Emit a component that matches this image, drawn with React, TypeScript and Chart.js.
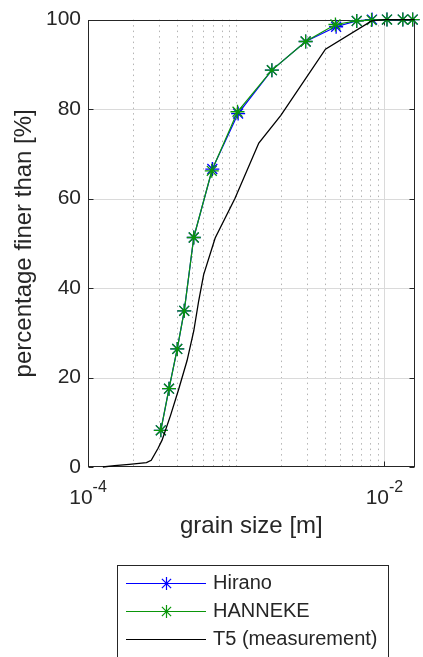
import React, { useEffect, useRef } from 'react';
import { Chart, registerables } from 'chart.js';

Chart.register(...registerables);

// ---- data ----
const hannekeSize = [3.10e-4, 3.52e-4, 4.0e-4, 4.46e-4, 5.17e-4, 6.84e-4, 1.02e-3, 1.74e-3, 2.94e-3, 4.67e-3, 6.5e-3, 8.19e-3, 1.04e-2, 1.33e-2, 1.55e-2];
const hannekePercent = [8.2, 17.5, 26.4, 34.9, 51.3, 66.2, 79.4, 88.7, 95.1, 98.9, 99.7, 99.9, 100, 100, 100];

const hiranoSize = [3.10e-4, 3.52e-4, 4.0e-4, 4.46e-4, 5.17e-4, 6.90e-4, 1.03e-3, 1.74e-3, 2.94e-3, 4.72e-3, 6.5e-3, 8.25e-3, 1.04e-2, 1.33e-2, 1.55e-2];
const hiranoPercent = [8.2, 17.5, 26.4, 34.9, 51.3, 66.6, 79.0, 88.7, 95.1, 98.4, 99.7, 100, 100, 100, 100];

const t5Size = [1.26e-4, 1.51e-4, 1.90e-4, 2.48e-4, 2.67e-4, 2.97e-4, 3.16e-4, 3.61e-4, 4.10e-4, 4.66e-4, 5.17e-4, 5.58e-4, 6.03e-4, 7.21e-4, 9.80e-4, 1.42e-3, 2.00e-3, 4.0e-3, 8.19e-3, 1.0e-2, 1.6e-2];
const t5Percent = [0, 0.3, 0.6, 1.0, 1.5, 4.2, 6.0, 11.6, 17.5, 23.8, 30.4, 37.1, 43.0, 51.2, 60.0, 72.4, 78.6, 93.4, 99.7, 100, 100];

const xLabelExponents = [-4, -2];
const yTickValues = [0, 20, 40, 60, 80, 100];
const legendLabels = ['Hirano', 'HANNEKE', 'T5 (measurement)'];

const X_MIN = 1e-4;
const X_MAX = 0.016;

const FONT = '"Liberation Sans", Arial, Helvetica, sans-serif';
const TEXT = '#262626';
const BLUE = '#0000ff';
const GREEN = 'rgb(10,150,10)';
const BLACK = '#000000';
const MARKER_R = 7;

const toPoints = (xs: number[], ys: number[]) => xs.map((v, i) => ({ x: v, y: ys[i] }));

function drawStar(ctx: CanvasRenderingContext2D, cx: number, cy: number, r: number, color: string) {
  ctx.save();
  ctx.strokeStyle = color;
  ctx.lineWidth = 1.2;
  ctx.setLineDash([]);
  ctx.beginPath();
  ctx.moveTo(cx - r, cy); ctx.lineTo(cx + r, cy);
  ctx.moveTo(cx, cy - r); ctx.lineTo(cx, cy + r);
  const d = Math.cos(Math.PI / 4) * r;
  ctx.moveTo(cx - d, cy - d); ctx.lineTo(cx + d, cy + d);
  ctx.moveTo(cx - d, cy + d); ctx.lineTo(cx + d, cy - d);
  ctx.stroke();
  ctx.restore();
}

const axesPlugin = {
  id: 'matlabAxes',
  beforeDatasetsDraw(chart: any) {
    const { ctx, chartArea: a, scales } = chart;
    const x = scales.x;
    const y = scales.y;
    ctx.save();
    ctx.lineWidth = 1;
    // vertical grid (log)
    for (let e = -4; e <= -2; e++) {
      for (let m = 1; m <= 9; m++) {
        const v = m * Math.pow(10, e);
        if (v <= X_MIN * 1.0001 || v >= X_MAX) continue;
        const px = Math.round(x.getPixelForValue(v)) + 0.5;
        const major = m === 1 && xLabelExponents.includes(e);
        if (major) {
          ctx.setLineDash([]);
          ctx.strokeStyle = '#dadada';
        } else {
          ctx.setLineDash([1.5, 4]);
          ctx.strokeStyle = '#b4b4b4';
        }
        ctx.beginPath();
        ctx.moveTo(px, a.top);
        ctx.lineTo(px, a.bottom);
        ctx.stroke();
      }
    }
    // horizontal grid
    ctx.setLineDash([]);
    ctx.strokeStyle = '#dadada';
    yTickValues.forEach((v) => {
      if (v === 0 || v === 100) return;
      const py = Math.round(y.getPixelForValue(v)) + 0.5;
      ctx.beginPath();
      ctx.moveTo(a.left, py);
      ctx.lineTo(a.right, py);
      ctx.stroke();
    });
    // box
    ctx.strokeStyle = TEXT;
    const l = Math.round(a.left) + 0.5;
    const r = Math.round(a.right) - 0.5;
    const t = Math.round(a.top) + 0.5;
    const b = Math.round(a.bottom) - 0.5;
    ctx.strokeRect(l, t, r - l, b - t);
    // tick marks
    const tl = 5;
    ctx.beginPath();
    yTickValues.forEach((v) => {
      const py = Math.round(y.getPixelForValue(v)) + 0.5;
      ctx.moveTo(l, py); ctx.lineTo(l + tl, py);
      ctx.moveTo(r, py); ctx.lineTo(r - tl, py);
    });
    xLabelExponents.forEach((e) => {
      const px = Math.round(x.getPixelForValue(Math.pow(10, e))) + 0.5;
      ctx.moveTo(px, b); ctx.lineTo(px, b - tl);
      ctx.moveTo(px, t); ctx.lineTo(px, t + tl);
    });
    ctx.stroke();
    ctx.restore();
  },
  afterDraw(chart: any) {
    const { ctx, scales } = chart;
    const x = scales.x;
    ctx.save();
    ctx.fillStyle = TEXT;
    ctx.textBaseline = 'alphabetic';
    ctx.textAlign = 'left';
    // x tick labels with superscript exponents
    xLabelExponents.forEach((e) => {
      const px = x.getPixelForValue(Math.pow(10, e));
      const base = '10';
      const exp = String(e);
      ctx.font = `21px ${FONT}`;
      const w1 = ctx.measureText(base).width;
      ctx.font = `16px ${FONT}`;
      const w2 = ctx.measureText(exp).width;
      const start = px - (w1 + w2) / 2;
      ctx.font = `21px ${FONT}`;
      ctx.fillText(base, start, 504);
      ctx.font = `16px ${FONT}`;
      ctx.fillText(exp, start + w1, 492);
    });

    // legend
    const bx = 117.5, by = 565.5, bw = 271, bh = 120;
    ctx.fillStyle = '#ffffff';
    ctx.fillRect(bx, by, bw, bh);
    ctx.strokeStyle = '#262626';
    ctx.lineWidth = 1;
    ctx.strokeRect(bx, by, bw, bh);
    const colors = [BLUE, GREEN, BLACK];
    const markers = [true, true, false];
    legendLabels.forEach((label, i) => {
      const ly = 583.5 + i * 28;
      ctx.strokeStyle = colors[i];
      ctx.lineWidth = 1.2;
      ctx.beginPath();
      ctx.moveTo(126, ly);
      ctx.lineTo(206, ly);
      ctx.stroke();
      if (markers[i]) drawStar(ctx, 166.5, ly, 6.5, colors[i]);
      ctx.fillStyle = TEXT;
      ctx.font = `20px ${FONT}`;
      ctx.textBaseline = 'middle';
      ctx.fillText(label, 213, ly);
    });
    ctx.restore();
  },
};

export default function App() {
  const canvasRef = useRef<HTMLCanvasElement | null>(null);

  useEffect(() => {
    if (!canvasRef.current) return;
    const chart = new Chart(canvasRef.current, {
      type: 'line',
      data: {
        datasets: [
          {
            label: legendLabels[0],
            data: toPoints(hiranoSize, hiranoPercent),
            borderColor: BLUE,
            backgroundColor: BLUE,
            borderWidth: 1.2,
            pointStyle: 'star',
            pointRadius: MARKER_R,
            pointBorderWidth: 1.3,
            pointBorderColor: BLUE,
            tension: 0,
            clip: false as any,
            order: 2,
          },
          {
            label: legendLabels[1],
            data: toPoints(hannekeSize, hannekePercent),
            borderColor: GREEN,
            backgroundColor: GREEN,
            borderWidth: 1.2,
            pointStyle: 'star',
            pointRadius: MARKER_R,
            pointBorderWidth: 1.3,
            pointBorderColor: GREEN,
            tension: 0,
            clip: false as any,
            order: 1,
          },
          {
            label: legendLabels[2],
            data: toPoints(t5Size, t5Percent),
            borderColor: BLACK,
            backgroundColor: BLACK,
            borderWidth: 1.3,
            pointRadius: 0,
            tension: 0,
            clip: false as any,
            order: 0,
          },
        ],
      },
      options: {
        responsive: false,
        animation: false,
        devicePixelRatio: 1,
        events: [],
        layout: { padding: { top: 17, right: 5, bottom: 97, left: 0 } },
        plugins: { legend: { display: false }, tooltip: { enabled: false } },
        scales: {
          x: {
            type: 'logarithmic',
            min: X_MIN,
            max: X_MAX,
            grid: { display: false, drawTicks: false },
            border: { display: false },
            ticks: { display: false },
            title: {
              display: true,
              text: 'grain size [m]',
              color: TEXT,
              font: { size: 24, family: FONT },
              padding: { top: 0, bottom: 19 },
            },
            afterFit: (s: any) => { s.height = 93; },
          },
          y: {
            type: 'linear',
            min: 0,
            max: 100,
            grid: { display: false, drawTicks: false },
            border: { display: false },
            ticks: {
              stepSize: 20,
              color: TEXT,
              padding: 7,
              font: { size: 21, family: FONT },
            },
            title: {
              display: true,
              text: 'percentage finer than [%]',
              color: TEXT,
              font: { size: 24, family: FONT },
              padding: { top: 10, bottom: 0 },
            },
            afterFit: (s: any) => { s.width = 88; },
          },
        },
      } as any,
      plugins: [axesPlugin],
    });
    return () => chart.destroy();
  }, []);

  return (
    <div style={{ position: 'fixed', left: 0, top: 0, width: 423, height: 657, background: '#ffffff' }}>
      <canvas ref={canvasRef} width={423} height={657} style={{ display: 'block' }} />
    </div>
  );
}
